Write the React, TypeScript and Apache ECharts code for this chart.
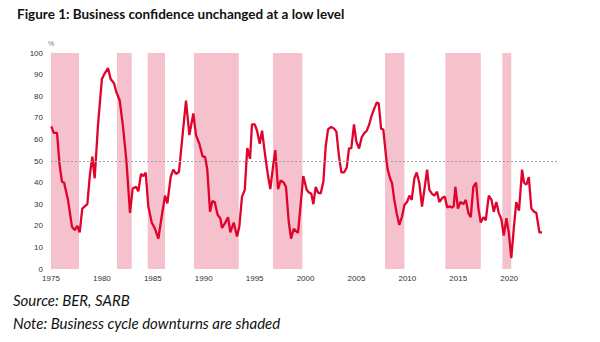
import React, { useEffect, useRef } from "react";
import * as echarts from "echarts";

const years = [
  1975.03, 1975.27, 1975.59, 1975.85, 1976.08, 1976.28, 1976.67, 1977.06, 1977.33, 1977.58, 1977.82,
  1978.07, 1978.31, 1978.57, 1978.83, 1979.06, 1979.29, 1979.62, 1980.0, 1980.27, 1980.6, 1980.86,
  1981.19, 1981.41, 1981.75, 1982.07, 1982.4, 1982.76, 1983.02, 1983.35, 1983.58, 1983.84, 1984.07,
  1984.3, 1984.56, 1984.89, 1985.2, 1985.54, 1985.87, 1986.2, 1986.43, 1986.76, 1987.01, 1987.28,
  1987.57, 1987.94, 1988.26, 1988.59, 1988.98, 1989.24, 1989.57, 1989.9, 1990.13, 1990.35, 1990.62,
  1990.85, 1991.08, 1991.37, 1991.63, 1991.8, 1992.06, 1992.39, 1992.61, 1992.95, 1993.27, 1993.5,
  1993.76, 1994.03, 1994.28, 1994.55, 1994.74, 1995.01, 1995.24, 1995.5, 1995.73, 1996.05, 1996.29,
  1996.54, 1996.81, 1997.03, 1997.3, 1997.56, 1997.86, 1998.08, 1998.35, 1998.58, 1998.84, 1999.26,
  1999.53, 1999.78, 2000.12, 2000.34, 2000.57, 2000.77, 2001.0, 2001.23, 2001.49, 2001.75, 2001.98,
  2002.21, 2002.53, 2002.8, 2003.03, 2003.29, 2003.52, 2003.78, 2004.05, 2004.27, 2004.5, 2004.76,
  2004.99, 2005.26, 2005.52, 2005.75, 2006.01, 2006.24, 2006.46, 2006.73, 2006.99, 2007.19, 2007.42,
  2007.64, 2007.91, 2008.07, 2008.3, 2008.5, 2008.72, 2008.96, 2009.21, 2009.48, 2009.71, 2009.97,
  2010.2, 2010.43, 2010.69, 2010.92, 2011.18, 2011.44, 2011.67, 2011.94, 2012.16, 2012.43, 2012.65,
  2012.92, 2013.14, 2013.45, 2013.68, 2013.92, 2014.15, 2014.38, 2014.55, 2014.72, 2014.97, 2015.22,
  2015.5, 2015.74, 2015.99, 2016.23, 2016.48, 2016.75, 2016.98, 2017.21, 2017.47, 2017.7, 2018.0,
  2018.27, 2018.49, 2018.74, 2018.98, 2019.24, 2019.47, 2019.73, 2019.96, 2020.21, 2020.47, 2020.7,
  2020.97, 2021.27, 2021.46, 2021.69, 2021.93, 2022.18, 2022.45, 2022.67, 2022.97, 2023.23,
];

const bci = [
  66, 63, 63, 48, 40.4, 40, 32, 19.6, 18, 20, 17,
  28, 29, 30, 44, 52, 42, 67, 88, 90.5, 93, 88,
  86, 82, 78, 66, 50.5, 26, 37.3, 38, 36, 44, 43,
  44.6, 29, 21.5, 18.8, 14, 24.3, 34, 30.4, 42.8, 46, 44,
  45, 62.8, 78, 62, 72, 62, 58, 52, 52, 46, 26.5,
  31.5, 31, 25, 23.5, 19, 21, 24, 17, 21.5, 15, 19.7,
  33.5, 36.5, 56, 51, 67, 67, 64, 58, 64, 52, 44,
  37, 47.5, 55, 37, 41, 40, 38, 22, 14, 18.6, 16.7,
  30.4, 43, 36.6, 35.4, 34.8, 30, 38, 35.4, 35, 40.4, 56.7,
  64.6, 65.8, 65, 63.6, 52, 44.7, 44.7, 47, 55.8, 56, 67,
  59, 55.8, 61, 62.8, 64, 66.7, 70.5, 74, 77, 76.7, 65,
  64.6, 52, 46, 42, 39.7, 32, 25.7, 20.4, 24.3, 29.6, 31,
  34, 32, 42, 44.7, 39.7, 28.9, 36.6, 46, 36.6, 34.8, 34,
  35.8, 31, 33, 33.5, 28.5, 29, 28.5, 29, 38, 28, 31,
  30, 32, 26, 24, 38, 40, 28, 21.5, 24, 22.5, 34,
  32, 26.5, 31, 26, 23, 15.5, 23.5, 17, 5, 19.5, 31,
  27, 46, 40, 39, 42.5, 28, 26.5, 26, 17, 17,
];

const downturns: [number, number][] = [
  [1975.0, 1977.75],
  [1981.48, 1982.93],
  [1984.5, 1986.2],
  [1989.05, 1993.44],
  [1996.8, 1999.69],
  [2007.81, 2009.71],
  [2013.73, 2017.21],
  [2019.33, 2020.21],
];

const xTicks = [1975, 1980, 1985, 1990, 1995, 2000, 2005, 2010, 2015, 2020];
const yTicks = [0, 10, 20, 30, 40, 50, 60, 70, 80, 90, 100];
const thresholdLevel = 50;

const titleText = "Figure 1: Business confidence unchanged at a low level";
const sourceText = "Source: BER, SARB";
const noteText = "Note: Business cycle downturns are shaded";

export default function App() {
  const ref = useRef<HTMLDivElement>(null);

  useEffect(() => {
    if (!ref.current) return;
    const chart = echarts.init(ref.current, null, { renderer: "svg" });
    const lineData = years.map((y, i) => [y, bci[i]]);
    const option: any = {
      animation: false,
      backgroundColor: "#ffffff",
      title: {
        text: titleText,
        left: 12,
        top: 2,
        textStyle: {
          fontFamily: "Lato",
          fontWeight: "bold",
          fontSize: 13.5,
          color: "#111111",
        },
      },
      grid: { left: 51, right: 43, top: 53, bottom: 73, containLabel: false },
      xAxis: {
        type: "value",
        min: 1975,
        max: 2024.7,
        interval: 5,
        axisLine: { show: false },
        axisTick: { show: false },
        splitLine: { show: false },
        axisLabel: {
          fontFamily: "Liberation Sans",
          fontSize: 8,
          color: "#333333",
          margin: 5,
          formatter: (v: number) => (xTicks.includes(Math.round(v)) && Math.abs(v - Math.round(v)) < 1e-6 ? String(Math.round(v)) : ""),
        },
      },
      yAxis: {
        type: "value",
        min: yTicks[0],
        max: yTicks[yTicks.length - 1],
        interval: 10,
        name: "%",
        nameLocation: "end",
        nameGap: 6,
        nameTextStyle: { fontFamily: "Liberation Sans", fontSize: 7, color: "#777777", align: "center" },
        axisLine: { show: true, lineStyle: { color: "#9a9a9a", width: 1 } },
        axisTick: { show: false },
        splitLine: { show: false },
        axisLabel: { fontFamily: "Liberation Sans", fontSize: 8, color: "#333333", margin: 8 },
      },
      series: [
        {
          type: "line",
          data: lineData,
          showSymbol: false,
          symbol: "none",
          z: 3,
          lineStyle: { color: "#e0042c", width: 2.3 },
          markArea: {
            silent: true,
            itemStyle: { color: "#f5c1cc" },
            data: downturns.map(([s, e]) => [{ xAxis: s }, { xAxis: e }]),
          },
          markLine: {
            silent: true,
            symbol: "none",
            label: { show: false },
            lineStyle: { color: "#a0a0a0", type: [2, 2], width: 1 },
            data: [{ yAxis: thresholdLevel }],
          },
        },
      ],
      graphic: [
        {
          type: "text",
          left: 13,
          top: 292,
          style: {
            text: sourceText,
            font: "italic 15px Lato",
            fill: "#111111",
          },
        },
        {
          type: "text",
          left: 13,
          top: 315,
          style: {
            text: noteText,
            font: "italic 15px Lato",
            fill: "#111111",
          },
        },
      ],
    };
    chart.setOption(option);
    return () => chart.dispose();
  }, []);

  return (
    <div
      ref={ref}
      style={{ position: "fixed", left: 0, top: 0, width: 600, height: 342, background: "#fff" }}
    />
  );
}
